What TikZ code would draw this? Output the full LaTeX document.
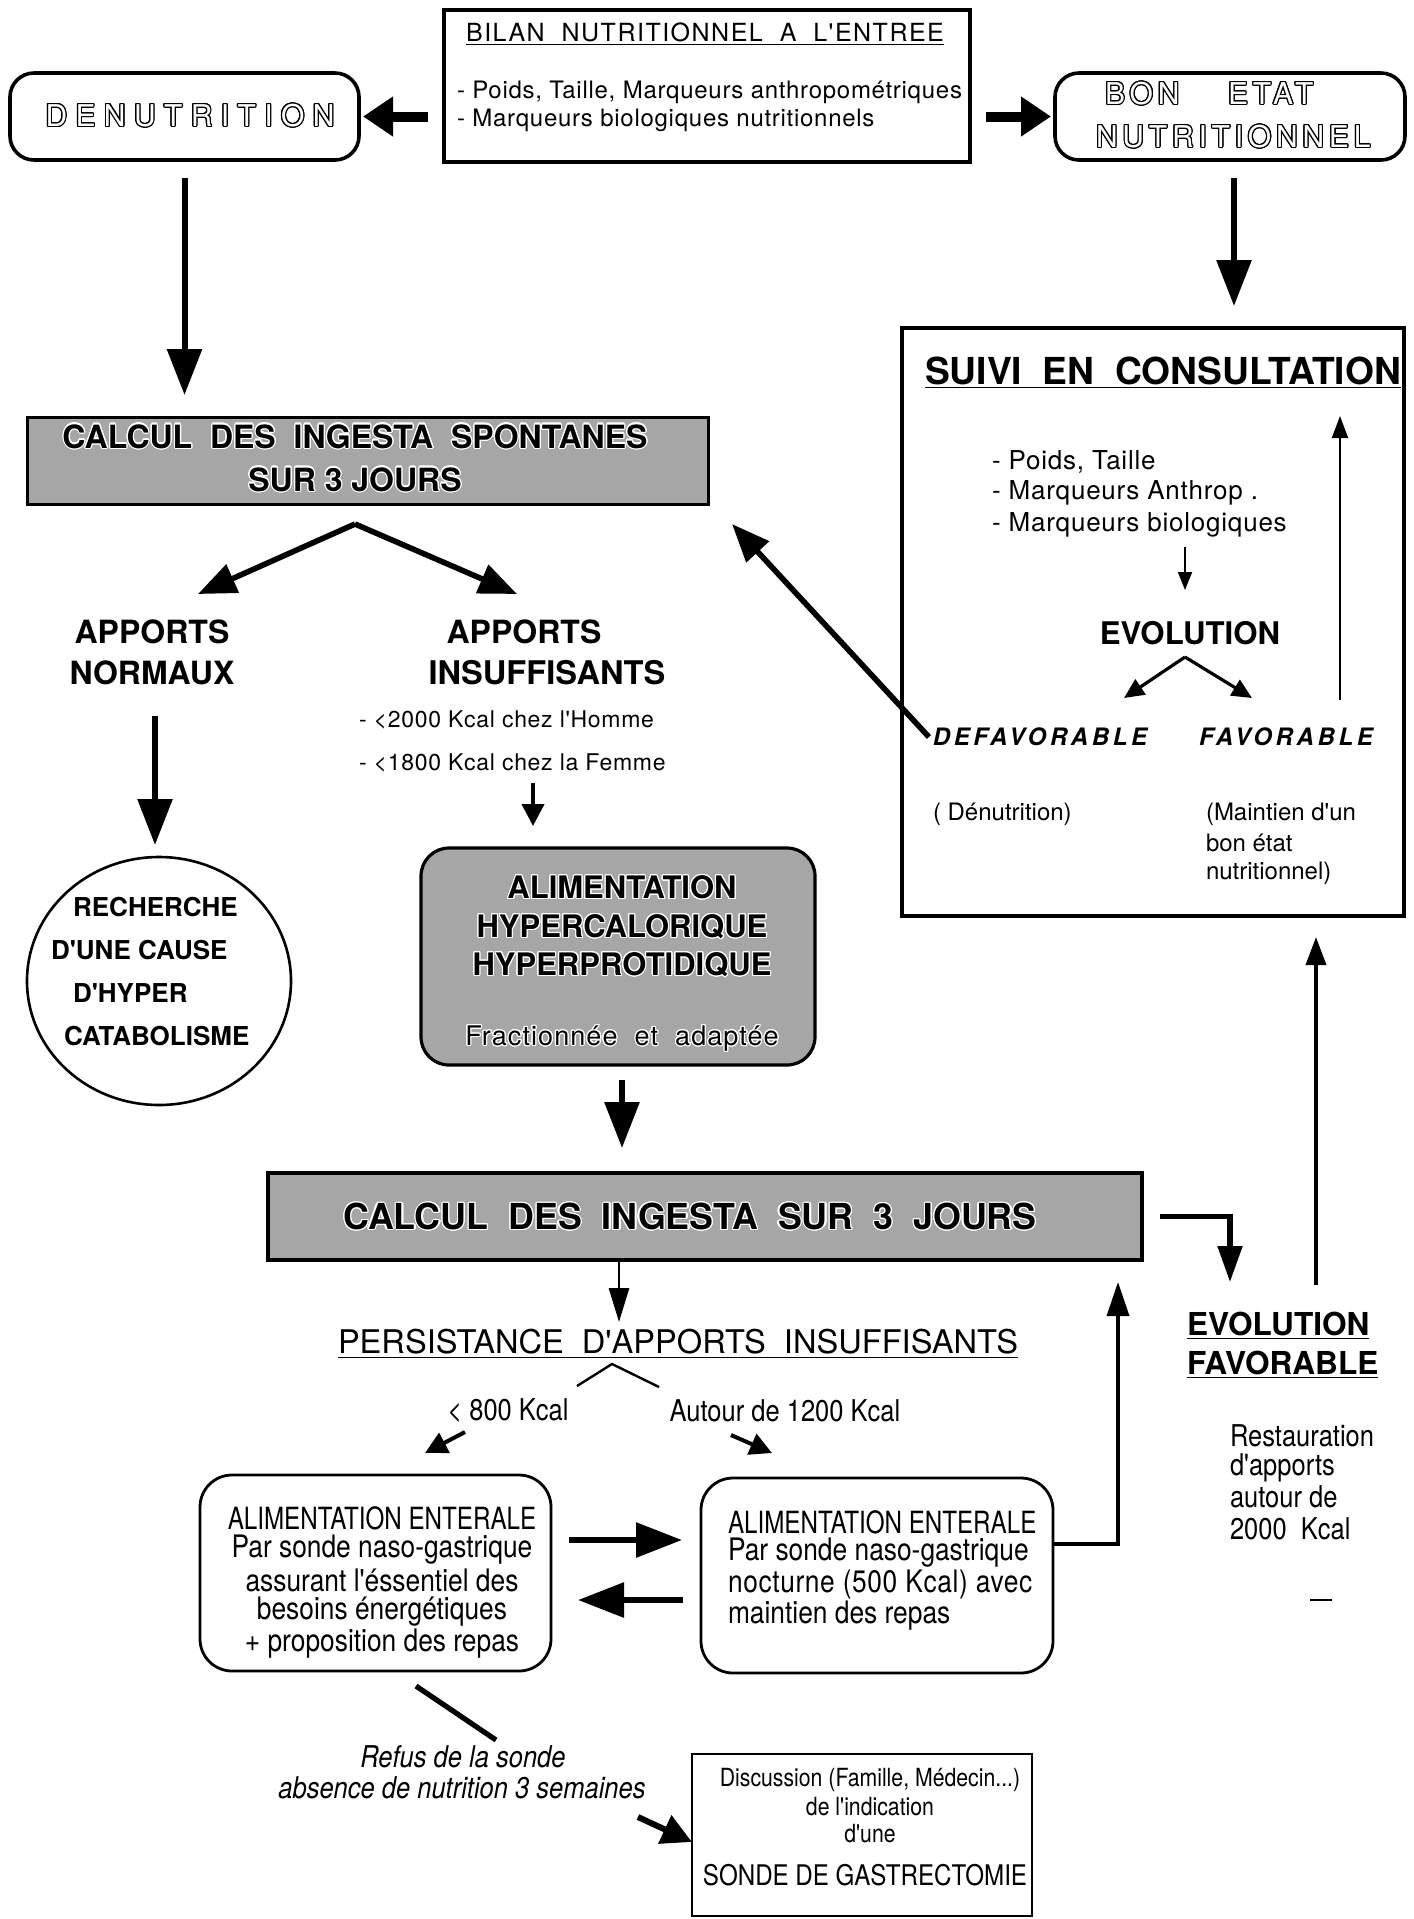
\documentclass[tikz,border=0pt]{standalone}
\usepackage{fontspec}
\newfontfamily\hv{TeX Gyre Heros}
\newfontfamily\narrowf[FakeStretch=0.85]{TeX Gyre Heros}
\newfontfamily\xnarrowf[FakeStretch=0.79]{TeX Gyre Heros}
\usepackage{contour}
\contourlength{0.6pt}
\usetikzlibrary{arrows.meta,shapes.geometric,fit}
\newcommand\fsz[1]{\fontsize{#1}{#1}\selectfont}
\begin{document}
\hv
\begin{tikzpicture}[x=0.5pt,y=-0.5pt,
  every node/.style={inner sep=0pt,outer sep=0pt},
  box/.style={draw,line width=1.8pt,inner sep=0pt},
  shade/.style={fill=black!35},
  blk/.style={line width=5pt,-{Triangle[length=15pt,width=19pt]}},
  fat/.style={line width=3pt,-{Triangle[length=23pt,width=17pt]}},
  branch/.style={line width=2.8pt,-{Triangle[length=19pt,width=15pt]}},
  thinarr/.style={line width=0.9pt,-{Triangle[length=9pt,width=7pt]}},
  tallarr/.style={line width=1pt,-{Triangle[length=11pt,width=8pt]}},
  medarr/.style={line width=1.6pt,-{Triangle[length=10pt,width=9pt]}},
  smarr/.style={line width=2pt,-{Triangle[length=11pt,width=11pt]}},
  vert/.style={line width=1.4pt,-{Triangle[length=17pt,width=10pt]}}]
\useasboundingbox (0,0) rectangle (1414,1919);

% ---------- top row
\node[box,line width=2pt,fit={(444,10) (970,162)}] (bilan) {};
\node[font=\fsz{12.5}\addfontfeature{LetterSpace=6}] (bilant) at (705,34) {\underline{BILAN\ \ NUTRITIONNEL\ \ A\ \ L'ENTREE}};
\node[anchor=west,font=\fsz{12}\addfontfeature{LetterSpace=3}] (bilan1) at (457,92) {- Poids, Taille, Marqueurs anthropométriques};
\node[anchor=west,font=\fsz{12}\addfontfeature{LetterSpace=3}] (bilan2) at (457,120) {- Marqueurs biologiques nutritionnels};

\node[box,rounded corners=12pt,fit={(10,73) (359,160)}] (denut) {};
\node[font=\fsz{15}\addfontfeature{LetterSpace=28}] (denutt) at (190,116) {\contour{black}{\textcolor{white}{DENUTRITION}}};

\node[box,rounded corners=12pt,fit={(1055,73) (1405,160)}] (bon) {};
\node[anchor=west,font=\fsz{15}\addfontfeature{LetterSpace=16}] (bont1) at (1105,94) {\contour{black}{\textcolor{white}{BON}}};
\node[anchor=west,font=\fsz{15}\addfontfeature{LetterSpace=16}] (bont2) at (1228,94) {\contour{black}{\textcolor{white}{ETAT}}};
\node[anchor=west,font=\fsz{15}\addfontfeature{LetterSpace=16}] (bont3) at (1096,137) {\contour{black}{\textcolor{white}{NUTRITIONNEL}}};

\draw[blk] ([xshift=-8pt]bilan.west |- denut.east) -- ([xshift=2pt]denut.east);
\draw[blk] ([xshift=8pt]bilan.east |- bon.west) -- ([xshift=-2pt]bon.west);

% ---------- suivi en consultation
\node[box,line width=2.2pt,fit={(902,328) (1404,916)}] (suivi) {};
\node[anchor=west,font=\fsz{18.6}\bfseries] (suivit) at (925,373) {\underline{SUIVI\ \ EN\ \ CONSULTATION}};
\node[anchor=west,font=\fsz{13}\addfontfeature{LetterSpace=3}] (s1) at (992,462) {- Poids, Taille};
\node[anchor=west,font=\fsz{13}\addfontfeature{LetterSpace=3}] (s2) at (992,493) {- Marqueurs Anthrop .};
\node[anchor=west,font=\fsz{13}\addfontfeature{LetterSpace=3}] (s3) at (992,525) {- Marqueurs biologiques};
\node[font=\fsz{15.6}\bfseries] (evol) at (1190,633) {EVOLUTION};
\node[font=\fsz{12}\bfseries\itshape\addfontfeature{LetterSpace=15}] (defav) at (1040,737) {DEFAVORABLE};
\node[font=\fsz{12}\bfseries\itshape\addfontfeature{LetterSpace=15}] (fav) at (1286,737) {FAVORABLE};
\node[anchor=west,font=\fsz{12}] (den2) at (933,814) {( Dénutrition)};
\node[anchor=west,font=\fsz{12}] (m1) at (1206,814) {(Maintien d'un};
\node[anchor=west,font=\fsz{12}] (m2) at (1206,843) {bon état};
\node[anchor=west,font=\fsz{12}] (m3) at (1206,873) {nutritionnel)};

\draw[thinarr] (1185,547) -- (1185,590);
\draw[medarr] (1185,657) -- (1124,698);
\draw[medarr] (1185,657) -- (1252,698);
\draw[tallarr] (1340,700) -- (1340,416);

\draw[fat] ([yshift=-9pt]denut.south) -- ([yshift=11pt]denut.south |- 0,417);
\draw[fat] (1234,178) -- (1234,306);

% ---------- calcul spontanes
\node[box,shade,line width=1.5pt,fit={(27,417) (708,504)}] (spont) {};
\node[font=\fsz{16}\bfseries] (spt1) at (355,437) {\contour{white}{CALCUL\ \ DES\ \ INGESTA\ \ SPONTANES}};
\node[font=\fsz{16}\bfseries] (spt2) at (355,480) {\contour{white}{SUR 3 JOURS}};

\coordinate (spin) at (732,524);
\draw[branch] ([xshift=-2pt]defav.west) -- (spin);

\coordinate (spb) at (355,524);
\draw[branch] (spb) -- (198,594);
\draw[branch] (spb) -- (517,594);

\node[font=\fsz{16}\bfseries] (an1) at (152,632) {APPORTS};
\node[font=\fsz{16}\bfseries] (an2) at (152,673) {NORMAUX};
\node[font=\fsz{16}\bfseries] (ai1) at (524,632) {APPORTS};
\node[font=\fsz{16.3}\bfseries] (ai2) at (547,673) {INSUFFISANTS};
\node[anchor=west,font=\fsz{11.5}\addfontfeature{LetterSpace=3}] (ai3) at (359,720) {- <2000 Kcal chez l'Homme};
\node[anchor=west,font=\fsz{11.5}\addfontfeature{LetterSpace=3}] (ai4) at (359,763) {- <1800 Kcal chez la Femme};

% ---------- ellipse
\node[draw,ellipse,line width=1.3pt,minimum width=132pt,minimum height=124pt] (rech) at (159,981) {};
\node[anchor=west,font=\fsz{13}\bfseries] (r1) at (73,907) {RECHERCHE};
\node[anchor=west,font=\fsz{13}\bfseries] (r2) at (51,950) {D'UNE CAUSE};
\node[anchor=west,font=\fsz{13}\bfseries] (r3) at (73,993) {D'HYPER};
\node[anchor=west,font=\fsz{13}\bfseries] (r4) at (64,1036) {CATABOLISME};
\draw[fat] (155,716) -- (155,845);

% ---------- alimentation hypercalorique
\node[box,shade,rounded corners=14pt,line width=1.6pt,fit={(421,848) (815,1065)}] (alim) {};
\node[font=\fsz{15.5}\bfseries] (al1) at (622,888) {\contour{white}{ALIMENTATION}};
\node[font=\fsz{15.5}\bfseries] (al2) at (622,927) {\contour{white}{HYPERCALORIQUE}};
\node[font=\fsz{15.5}\bfseries] (al3) at (622,965) {\contour{white}{HYPERPROTIDIQUE}};
\node[font=\fsz{13.5}\addfontfeature{LetterSpace=4}] (al4) at (622,1039) {\contour{white}{Fractionnée\ \ et\ \ adaptée}};
\draw[smarr] (533,783) -- (533,826);
\draw[fat] (622,1080) -- (622,1148);

% ---------- calcul des ingesta
\node[box,shade,line width=1.6pt,fit={(268,1173) (1142,1260)}] (calc) {};
\node[font=\fsz{17.9}\bfseries] (calct) at (690,1217) {\contour{white}{CALCUL\ \ DES\ \ INGESTA\ \ SUR\ \ 3\ \ JOURS}};

\node[anchor=west,font=\fsz{15.8}\bfseries] (ef1) at (1187,1326) {\underline{EVOLUTION}};
\node[anchor=west,font=\fsz{15.8}\bfseries] (ef2) at (1187,1365) {\underline{FAVORABLE}};
\coordinate (efin) at (1230,1282);
\draw[line width=2.6pt,-{Triangle[length=18pt,width=12pt]}] ([xshift=9pt]calc.east) -| (efin);
\draw[line width=1.8pt,-{Triangle[length=14pt,width=10pt]}] (1316,1285) -- (1316,937);

\node[anchor=west,font=\narrowf\fsz{15}] (re1) at (1230,1436) {Restauration};
\node[anchor=west,font=\narrowf\fsz{15}] (re2) at (1230,1468) {d'apports};
\node[anchor=west,font=\narrowf\fsz{15}] (re3) at (1230,1497) {autour de};
\node[anchor=west,font=\narrowf\fsz{15}] (re4) at (1230,1529) {2000\ \ Kcal};
\draw[line width=1pt] (1310,1600) -- (1332,1600);

% ---------- persistance
\draw[vert] (619,1260) -- (619,1322);
\node[font=\fsz{16.3}] (pers) at (678,1344) {\underline{PERSISTANCE\ \ D'APPORTS\ \ INSUFFISANTS}};
\draw[line width=1.2pt] (577,1386) -- (612,1364) -- (659,1387);
\node[font=\narrowf\fsz{15}] (k800) at (508,1411) {< 800 Kcal};
\node[font=\narrowf\fsz{15}] (k1200) at (785,1411) {Autour de 1200 Kcal};
\draw[smarr] (465,1432) -- (425,1453);
\draw[smarr] (731,1435) -- (772,1453);

% ---------- enteral boxes
\node[box,line width=1.4pt,rounded corners=16pt,fit={(200,1475) (551,1671)}] (ae1) {};
\node[font=\xnarrowf\fsz{15.3}] (a11) at (382,1518) {ALIMENTATION ENTERALE};
\node[font=\narrowf\fsz{15.5}] (a12) at (382,1550) {Par sonde naso-gastrique};
\node[font=\narrowf\fsz{15.5}] (a13) at (382,1580) {assurant l'éssentiel des};
\node[font=\narrowf\fsz{15.5}] (a14) at (382,1612) {besoins énergétiques};
\node[font=\narrowf\fsz{15.5}] (a15) at (382,1644) {+ proposition des repas};

\node[box,line width=1.4pt,rounded corners=16pt,fit={(701,1478) (1053,1673)}] (ae2) {};
\node[anchor=west,font=\xnarrowf\fsz{15.3}] (a21) at (728,1522) {ALIMENTATION ENTERALE};
\node[anchor=west,font=\narrowf\fsz{15.5}] (a22) at (728,1553) {Par sonde naso-gastrique};
\node[anchor=west,font=\narrowf\fsz{15.5}\addfontfeature{LetterSpace=2}] (a23) at (728,1584) {nocturne (500 Kcal) avec};
\node[anchor=west,font=\narrowf\fsz{15.5}] (a24) at (728,1616) {maintien des repas};

\draw[fat] (569,1540) -- (682,1540);
\draw[fat] (683,1600) -- (578,1600);
\coordinate (calcin) at (1118,1282);
\draw[line width=1.8pt,-{Triangle[length=17pt,width=11pt]}] (ae2.east |- 0,1544) -| (calcin);

% ---------- refus
\draw[line width=2.6pt] (416,1686) -- (496,1740);
\node[font=\narrowf\itshape\fsz{15}] (rf1) at (463,1757) {Refus de la sonde};
\node[font=\narrowf\itshape\fsz{15}] (rf2) at (462,1788) {absence de nutrition 3 semaines};
\node[box,line width=1.4pt,fit={(692,1754) (1032,1916)}] (gast) {};
\node[font=\narrowf\fsz{12.5}] (g1) at (870,1780) {Discussion (Famille, Médecin...)};
\node[font=\narrowf\fsz{12.5}] (g2) at (870,1807) {de l'indication};
\node[font=\narrowf\fsz{12.5}] (g3) at (870,1834) {d'une};
\node[font=\narrowf\fsz{14.2}] (g4) at (865,1875) {SONDE DE GASTRECTOMIE};
\draw[line width=3pt,-{Triangle[length=15pt,width=15pt]}] (638,1817) -- (gast.west |- 0,1842);
\end{tikzpicture}
\end{document}
